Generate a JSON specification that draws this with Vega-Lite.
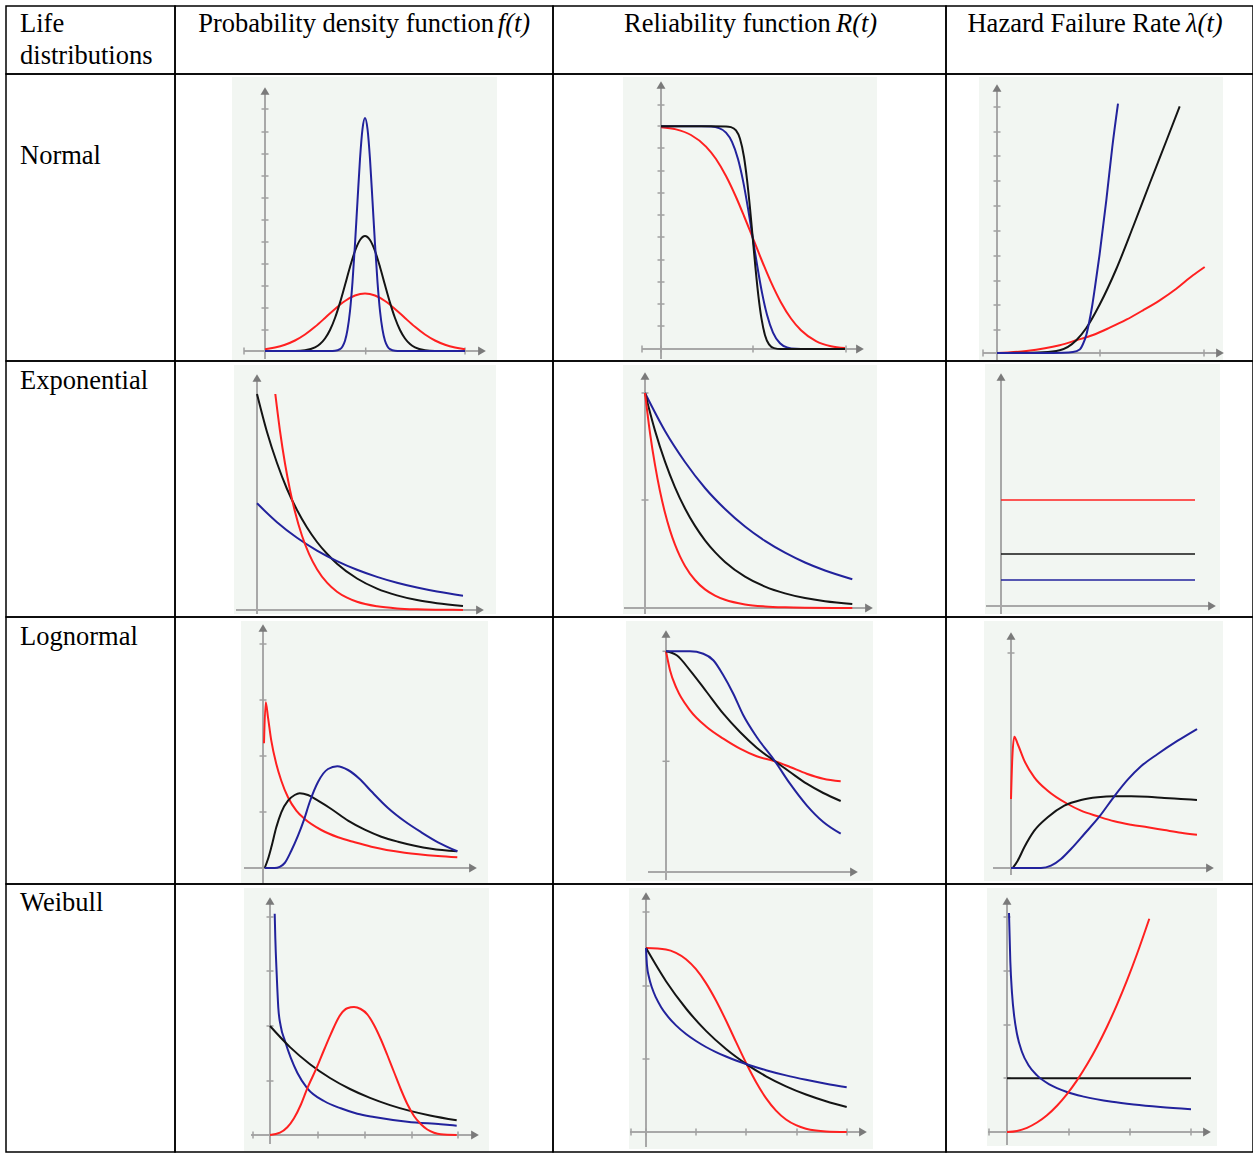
{
"$schema":"https://vega.github.io/schema/vega-lite/v6.json",
"padding":{"left":5,"top":5,"right":1,"bottom":2},
"background":"white",
"config":{"axis":{"disable":true},"legend":{"disable":true},"view":{"stroke":"#000","strokeWidth":1.5}},
"columns":4,"spacing":0,"align":"each","bounds":"flush",
"datasets":{
"frame":[{"part":"frame"}],
"ticks":[
{"c":"np","axis":"y","at":2.1},{"c":"np","axis":"y","at":4.3},{"c":"np","axis":"y","at":6.5},{"c":"np","axis":"y","at":8.7},{"c":"np","axis":"y","at":10.9},{"c":"np","axis":"y","at":13.1},{"c":"np","axis":"y","at":15.3},{"c":"np","axis":"y","at":17.5},{"c":"np","axis":"y","at":19.7},{"c":"np","axis":"y","at":21.9},{"c":"np","axis":"y","at":24.2},
{"c":"np","axis":"x","at":-2.1},{"c":"np","axis":"x","at":10.07},{"c":"np","axis":"x","at":20},
{"c":"nr","axis":"y","at":2.3},{"c":"nr","axis":"y","at":4.5},{"c":"nr","axis":"y","at":6.7},{"c":"nr","axis":"y","at":8.9},{"c":"nr","axis":"y","at":11.2},{"c":"nr","axis":"y","at":13.4},{"c":"nr","axis":"y","at":15.6},{"c":"nr","axis":"y","at":17.8},{"c":"nr","axis":"y","at":20.1},{"c":"nr","axis":"y","at":22.3},{"c":"nr","axis":"y","at":24.4},
{"c":"nr","axis":"x","at":-1.9},{"c":"nr","axis":"x","at":0},{"c":"nr","axis":"x","at":9.2},{"c":"nr","axis":"x","at":18.5},
{"c":"nh","axis":"y","at":2.3},{"c":"nh","axis":"y","at":4.8},{"c":"nh","axis":"y","at":7.2},{"c":"nh","axis":"y","at":9.7},{"c":"nh","axis":"y","at":12.2},{"c":"nh","axis":"y","at":14.7},{"c":"nh","axis":"y","at":17.2},{"c":"nh","axis":"y","at":19.7},{"c":"nh","axis":"y","at":22.1},{"c":"nh","axis":"y","at":24.6},
{"c":"nh","axis":"x","at":-1.4},{"c":"nh","axis":"x","at":10.3},{"c":"nh","axis":"x","at":20.7},
{"c":"er","axis":"y","at":10.8},{"c":"er","axis":"y","at":21.5},
{"c":"lp","axis":"y","at":5.6},{"c":"lp","axis":"y","at":11.2},{"c":"lp","axis":"y","at":16.8},{"c":"lp","axis":"y","at":22.4},
{"c":"lr","axis":"y","at":11.07},{"c":"lr","axis":"y","at":22.07},
{"c":"lh","axis":"y","at":21.5},
{"c":"wp","axis":"y","at":5.4},{"c":"wp","axis":"y","at":10.9},{"c":"wp","axis":"y","at":16.4},{"c":"wp","axis":"y","at":21.8},
{"c":"wp","axis":"x","at":-1.7},{"c":"wp","axis":"x","at":4.8},{"c":"wp","axis":"x","at":9.5},{"c":"wp","axis":"x","at":14.2},{"c":"wp","axis":"x","at":18.8},
{"c":"wr","axis":"y","at":7.3},{"c":"wr","axis":"y","at":14.6},{"c":"wr","axis":"y","at":22.0},
{"c":"wr","axis":"x","at":-1.5},{"c":"wr","axis":"x","at":0},{"c":"wr","axis":"x","at":5.0},{"c":"wr","axis":"x","at":10.0},{"c":"wr","axis":"x","at":15.1},{"c":"wr","axis":"x","at":20.1},
{"c":"wh","axis":"y","at":5.4},{"c":"wh","axis":"y","at":10.7},{"c":"wh","axis":"y","at":16.1},{"c":"wh","axis":"y","at":21.5},
{"c":"wh","axis":"x","at":-1.8},{"c":"wh","axis":"x","at":6.2},{"c":"wh","axis":"x","at":12.3},{"c":"wh","axis":"x","at":18.4}
],
"curves":[
{"c":"np","s":"red","t":0,"v":0.18},{"c":"np","s":"red","t":1,"v":0.35},{"c":"np","s":"red","t":2,"v":0.63},{"c":"np","s":"red","t":3,"v":1.05},{"c":"np","s":"red","t":4,"v":1.65},{"c":"np","s":"red","t":5,"v":2.42},{"c":"np","s":"red","t":6,"v":3.3},{"c":"np","s":"red","t":7,"v":4.21},{"c":"np","s":"red","t":8,"v":5.0},{"c":"np","s":"red","t":9,"v":5.55},{"c":"np","s":"red","t":10,"v":5.75},{"c":"np","s":"red","t":11,"v":5.55},{"c":"np","s":"red","t":12,"v":5.0},{"c":"np","s":"red","t":13,"v":4.21},{"c":"np","s":"red","t":14,"v":3.3},{"c":"np","s":"red","t":15,"v":2.42},{"c":"np","s":"red","t":16,"v":1.65},{"c":"np","s":"red","t":17,"v":1.05},{"c":"np","s":"red","t":18,"v":0.63},{"c":"np","s":"red","t":19,"v":0.35},{"c":"np","s":"red","t":20,"v":0.18},
{"c":"np","s":"black","t":0,"v":0},{"c":"np","s":"black","t":2,"v":0},{"c":"np","s":"black","t":3,"v":0.01},{"c":"np","s":"black","t":4,"v":0.08},{"c":"np","s":"black","t":5,"v":0.36},{"c":"np","s":"black","t":5.5,"v":0.7},{"c":"np","s":"black","t":6,"v":1.25},{"c":"np","s":"black","t":6.5,"v":2.1},{"c":"np","s":"black","t":7,"v":3.3},{"c":"np","s":"black","t":7.5,"v":4.84},{"c":"np","s":"black","t":8,"v":6.6},{"c":"np","s":"black","t":8.5,"v":8.4},{"c":"np","s":"black","t":9,"v":10.0},{"c":"np","s":"black","t":9.5,"v":11.1},{"c":"np","s":"black","t":10,"v":11.5},{"c":"np","s":"black","t":10.5,"v":11.1},{"c":"np","s":"black","t":11,"v":10.0},{"c":"np","s":"black","t":11.5,"v":8.4},{"c":"np","s":"black","t":12,"v":6.6},{"c":"np","s":"black","t":12.5,"v":4.84},{"c":"np","s":"black","t":13,"v":3.3},{"c":"np","s":"black","t":13.5,"v":2.1},{"c":"np","s":"black","t":14,"v":1.25},{"c":"np","s":"black","t":14.5,"v":0.7},{"c":"np","s":"black","t":15,"v":0.36},{"c":"np","s":"black","t":16,"v":0.08},{"c":"np","s":"black","t":17,"v":0.01},{"c":"np","s":"black","t":18,"v":0},{"c":"np","s":"black","t":20,"v":0},
{"c":"np","s":"blue","t":0,"v":0},{"c":"np","s":"blue","t":6.5,"v":0},{"c":"np","s":"blue","t":7,"v":0.02},{"c":"np","s":"blue","t":7.5,"v":0.18},{"c":"np","s":"blue","t":7.75,"v":0.45},{"c":"np","s":"blue","t":8,"v":1.02},{"c":"np","s":"blue","t":8.25,"v":2.13},{"c":"np","s":"blue","t":8.5,"v":4.0},{"c":"np","s":"blue","t":8.75,"v":6.9},{"c":"np","s":"blue","t":9,"v":10.7},{"c":"np","s":"blue","t":9.25,"v":15.0},{"c":"np","s":"blue","t":9.5,"v":19.2},{"c":"np","s":"blue","t":9.75,"v":22.2},{"c":"np","s":"blue","t":10,"v":23.3},{"c":"np","s":"blue","t":10.25,"v":22.2},{"c":"np","s":"blue","t":10.5,"v":19.2},{"c":"np","s":"blue","t":10.75,"v":15.0},{"c":"np","s":"blue","t":11,"v":10.7},{"c":"np","s":"blue","t":11.25,"v":6.9},{"c":"np","s":"blue","t":11.5,"v":4.0},{"c":"np","s":"blue","t":11.75,"v":2.13},{"c":"np","s":"blue","t":12,"v":1.02},{"c":"np","s":"blue","t":12.25,"v":0.45},{"c":"np","s":"blue","t":12.5,"v":0.18},{"c":"np","s":"blue","t":13,"v":0.02},{"c":"np","s":"blue","t":13.5,"v":0},{"c":"np","s":"blue","t":20,"v":0},

{"c":"nr","s":"red","t":0,"v":22.17},{"c":"nr","s":"red","t":1.5,"v":21.96},{"c":"nr","s":"red","t":3,"v":21.4},{"c":"nr","s":"red","t":4.5,"v":20.24},{"c":"nr","s":"red","t":5.5,"v":19.0},{"c":"nr","s":"red","t":6.5,"v":17.3},{"c":"nr","s":"red","t":7.5,"v":15.2},{"c":"nr","s":"red","t":8.3,"v":13.3},{"c":"nr","s":"red","t":9.17,"v":11.14},{"c":"nr","s":"red","t":10,"v":9.05},{"c":"nr","s":"red","t":11,"v":6.69},{"c":"nr","s":"red","t":12,"v":4.66},{"c":"nr","s":"red","t":13,"v":3.05},{"c":"nr","s":"red","t":14,"v":1.87},{"c":"nr","s":"red","t":15.5,"v":0.79},{"c":"nr","s":"red","t":17,"v":0.28},{"c":"nr","s":"red","t":18.4,"v":0.1},
{"c":"nr","s":"blue","t":0,"v":22.27},{"c":"nr","s":"blue","t":4,"v":22.27},{"c":"nr","s":"blue","t":5,"v":22.24},{"c":"nr","s":"blue","t":5.8,"v":22.09},{"c":"nr","s":"blue","t":6.5,"v":21.64},{"c":"nr","s":"blue","t":7.1,"v":20.72},{"c":"nr","s":"blue","t":7.7,"v":19.0},{"c":"nr","s":"blue","t":8.2,"v":16.84},{"c":"nr","s":"blue","t":8.7,"v":14.07},{"c":"nr","s":"blue","t":9.17,"v":11.14},{"c":"nr","s":"blue","t":9.6,"v":8.45},{"c":"nr","s":"blue","t":10.1,"v":5.64},{"c":"nr","s":"blue","t":10.6,"v":3.42},{"c":"nr","s":"blue","t":11.2,"v":1.64},{"c":"nr","s":"blue","t":11.9,"v":0.57},{"c":"nr","s":"blue","t":12.6,"v":0.16},{"c":"nr","s":"blue","t":13.5,"v":0.02},{"c":"nr","s":"blue","t":14.5,"v":0},{"c":"nr","s":"blue","t":18.4,"v":0},
{"c":"nr","s":"black","t":0,"v":22.27},{"c":"nr","s":"black","t":5,"v":22.27},{"c":"nr","s":"black","t":6.5,"v":22.26},{"c":"nr","s":"black","t":7,"v":22.19},{"c":"nr","s":"black","t":7.5,"v":21.86},{"c":"nr","s":"black","t":7.9,"v":21.03},{"c":"nr","s":"black","t":8.3,"v":19.2},{"c":"nr","s":"black","t":8.6,"v":16.95},{"c":"nr","s":"black","t":8.9,"v":14.1},{"c":"nr","s":"black","t":9.17,"v":11.14},{"c":"nr","s":"black","t":9.45,"v":8.08},{"c":"nr","s":"black","t":9.75,"v":5.21},{"c":"nr","s":"black","t":10.05,"v":3.03},{"c":"nr","s":"black","t":10.4,"v":1.38},{"c":"nr","s":"black","t":10.8,"v":0.46},{"c":"nr","s":"black","t":11.3,"v":0.09},{"c":"nr","s":"black","t":12,"v":0},{"c":"nr","s":"black","t":18.4,"v":0},

{"c":"nh","s":"red","t":0,"v":0},{"c":"nh","s":"red","t":2.93,"v":0.2},{"c":"nh","s":"red","t":6.27,"v":0.77},{"c":"nh","s":"red","t":7.93,"v":1.27},{"c":"nh","s":"red","t":9.6,"v":1.8},{"c":"nh","s":"red","t":11.27,"v":2.53},{"c":"nh","s":"red","t":12.93,"v":3.33},{"c":"nh","s":"red","t":14.6,"v":4.27},{"c":"nh","s":"red","t":16.27,"v":5.27},{"c":"nh","s":"red","t":17.93,"v":6.43},{"c":"nh","s":"red","t":19.6,"v":7.77},{"c":"nh","s":"red","t":20.77,"v":8.6},
{"c":"nh","s":"black","t":0,"v":0},{"c":"nh","s":"black","t":2.93,"v":0.03},{"c":"nh","s":"black","t":4.6,"v":0.07},{"c":"nh","s":"black","t":6.27,"v":0.27},{"c":"nh","s":"black","t":7.93,"v":1.27},{"c":"nh","s":"black","t":8.93,"v":2.5},{"c":"nh","s":"black","t":10.27,"v":4.85},{"c":"nh","s":"black","t":11.93,"v":8.4},{"c":"nh","s":"black","t":13.6,"v":12.6},{"c":"nh","s":"black","t":15.27,"v":16.95},{"c":"nh","s":"black","t":16.93,"v":21.2},{"c":"nh","s":"black","t":18.27,"v":24.67},
{"c":"nh","s":"blue","t":0,"v":0},{"c":"nh","s":"blue","t":4.6,"v":0},{"c":"nh","s":"blue","t":6.6,"v":0.03},{"c":"nh","s":"blue","t":7.6,"v":0.1},{"c":"nh","s":"blue","t":8.27,"v":0.35},{"c":"nh","s":"blue","t":8.6,"v":0.9},{"c":"nh","s":"blue","t":8.93,"v":1.8},{"c":"nh","s":"blue","t":9.2,"v":3.0},{"c":"nh","s":"blue","t":9.5,"v":4.6},{"c":"nh","s":"blue","t":9.8,"v":6.6},{"c":"nh","s":"blue","t":10.27,"v":9.93},{"c":"nh","s":"blue","t":10.93,"v":15.27},{"c":"nh","s":"blue","t":11.53,"v":20.6},{"c":"nh","s":"blue","t":12.1,"v":24.93},

{"c":"ep","s":"black","t":0,"v":21.6},{"c":"ep","s":"black","t":1,"v":17.8},{"c":"ep","s":"black","t":2,"v":14.7},{"c":"ep","s":"black","t":3,"v":12.1},{"c":"ep","s":"black","t":4,"v":10.0},{"c":"ep","s":"black","t":5,"v":8.25},{"c":"ep","s":"black","t":6,"v":6.8},{"c":"ep","s":"black","t":7,"v":5.62},{"c":"ep","s":"black","t":8,"v":4.63},{"c":"ep","s":"black","t":10,"v":3.15},{"c":"ep","s":"black","t":12,"v":2.14},{"c":"ep","s":"black","t":14,"v":1.46},{"c":"ep","s":"black","t":16,"v":0.99},{"c":"ep","s":"black","t":18,"v":0.68},{"c":"ep","s":"black","t":20.6,"v":0.41},
{"c":"ep","s":"blue","t":0,"v":10.67},{"c":"ep","s":"blue","t":2,"v":8.78},{"c":"ep","s":"blue","t":4,"v":7.22},{"c":"ep","s":"blue","t":6,"v":5.94},{"c":"ep","s":"blue","t":8,"v":4.89},{"c":"ep","s":"blue","t":10,"v":4.02},{"c":"ep","s":"blue","t":12,"v":3.31},{"c":"ep","s":"blue","t":14,"v":2.72},{"c":"ep","s":"blue","t":16,"v":2.24},{"c":"ep","s":"blue","t":18,"v":1.84},{"c":"ep","s":"blue","t":20.6,"v":1.43},
{"c":"ep","s":"red","t":1.83,"v":21.6},{"c":"ep","s":"red","t":2.3,"v":17.9},{"c":"ep","s":"red","t":2.8,"v":14.65},{"c":"ep","s":"red","t":3.3,"v":12.0},{"c":"ep","s":"red","t":3.8,"v":9.82},{"c":"ep","s":"red","t":4.5,"v":7.42},{"c":"ep","s":"red","t":5.2,"v":5.61},{"c":"ep","s":"red","t":6,"v":4.08},{"c":"ep","s":"red","t":7,"v":2.73},{"c":"ep","s":"red","t":8,"v":1.83},{"c":"ep","s":"red","t":9,"v":1.23},{"c":"ep","s":"red","t":10,"v":0.82},{"c":"ep","s":"red","t":12,"v":0.37},{"c":"ep","s":"red","t":14,"v":0.16},{"c":"ep","s":"red","t":16,"v":0.07},{"c":"ep","s":"red","t":18,"v":0.03},{"c":"ep","s":"red","t":20.6,"v":0.01},

{"c":"er","s":"blue","t":0,"v":21.5},{"c":"er","s":"blue","t":2,"v":17.7},{"c":"er","s":"blue","t":4,"v":14.6},{"c":"er","s":"blue","t":6,"v":12.0},{"c":"er","s":"blue","t":8,"v":9.9},{"c":"er","s":"blue","t":10,"v":8.15},{"c":"er","s":"blue","t":12,"v":6.71},{"c":"er","s":"blue","t":14,"v":5.53},{"c":"er","s":"blue","t":16,"v":4.55},{"c":"er","s":"blue","t":18,"v":3.75},{"c":"er","s":"blue","t":20.73,"v":2.88},
{"c":"er","s":"black","t":0,"v":21.5},{"c":"er","s":"black","t":1,"v":17.74},{"c":"er","s":"black","t":2,"v":14.64},{"c":"er","s":"black","t":3,"v":12.07},{"c":"er","s":"black","t":4,"v":9.95},{"c":"er","s":"black","t":5,"v":8.21},{"c":"er","s":"black","t":6,"v":6.77},{"c":"er","s":"black","t":7,"v":5.59},{"c":"er","s":"black","t":8,"v":4.61},{"c":"er","s":"black","t":10,"v":3.14},{"c":"er","s":"black","t":12,"v":2.14},{"c":"er","s":"black","t":14,"v":1.46},{"c":"er","s":"black","t":16,"v":0.99},{"c":"er","s":"black","t":18,"v":0.67},{"c":"er","s":"black","t":20.73,"v":0.4},
{"c":"er","s":"red","t":0,"v":21.5},{"c":"er","s":"red","t":0.5,"v":17.5},{"c":"er","s":"red","t":1,"v":14.31},{"c":"er","s":"red","t":1.5,"v":11.67},{"c":"er","s":"red","t":2,"v":9.52},{"c":"er","s":"red","t":2.5,"v":7.76},{"c":"er","s":"red","t":3,"v":6.33},{"c":"er","s":"red","t":3.5,"v":5.16},{"c":"er","s":"red","t":4,"v":4.21},{"c":"er","s":"red","t":5,"v":2.8},{"c":"er","s":"red","t":6,"v":1.86},{"c":"er","s":"red","t":7,"v":1.24},{"c":"er","s":"red","t":8,"v":0.82},{"c":"er","s":"red","t":10,"v":0.36},{"c":"er","s":"red","t":12,"v":0.16},{"c":"er","s":"red","t":14,"v":0.07},{"c":"er","s":"red","t":16,"v":0.03},{"c":"er","s":"red","t":20.73,"v":0},

{"c":"eh","s":"red","t":0,"v":10.6},{"c":"eh","s":"red","t":19.4,"v":10.6},
{"c":"eh","s":"black","t":0,"v":5.2},{"c":"eh","s":"black","t":19.4,"v":5.2},
{"c":"eh","s":"blue","t":0,"v":2.6},{"c":"eh","s":"blue","t":19.4,"v":2.6},

{"c":"lp","s":"red","t":0.1,"v":12.47},{"c":"lp","s":"red","t":0.27,"v":16.57},{"c":"lp","s":"red","t":0.5,"v":15.07},{"c":"lp","s":"red","t":0.83,"v":12.73},{"c":"lp","s":"red","t":1.33,"v":10.4},{"c":"lp","s":"red","t":1.83,"v":8.73},{"c":"lp","s":"red","t":2.5,"v":7.07},{"c":"lp","s":"red","t":3.33,"v":5.73},{"c":"lp","s":"red","t":4.17,"v":4.9},{"c":"lp","s":"red","t":5.83,"v":3.8},{"c":"lp","s":"red","t":7.5,"v":3.07},{"c":"lp","s":"red","t":9.17,"v":2.57},{"c":"lp","s":"red","t":10.83,"v":2.13},{"c":"lp","s":"red","t":14.17,"v":1.53},{"c":"lp","s":"red","t":17.5,"v":1.2},{"c":"lp","s":"red","t":19.43,"v":1.07},
{"c":"lp","s":"black","t":0.17,"v":0},{"c":"lp","s":"black","t":0.5,"v":0.9},{"c":"lp","s":"black","t":0.83,"v":2.07},{"c":"lp","s":"black","t":1.33,"v":4.07},{"c":"lp","s":"black","t":1.83,"v":5.57},{"c":"lp","s":"black","t":2.5,"v":6.73},{"c":"lp","s":"black","t":3.17,"v":7.3},{"c":"lp","s":"black","t":3.67,"v":7.47},{"c":"lp","s":"black","t":4.5,"v":7.3},{"c":"lp","s":"black","t":5.5,"v":6.73},{"c":"lp","s":"black","t":6.83,"v":5.9},{"c":"lp","s":"black","t":8.5,"v":4.73},{"c":"lp","s":"black","t":10.17,"v":3.83},{"c":"lp","s":"black","t":11.83,"v":3.13},{"c":"lp","s":"black","t":13.5,"v":2.63},{"c":"lp","s":"black","t":15.17,"v":2.23},{"c":"lp","s":"black","t":16.83,"v":1.93},{"c":"lp","s":"black","t":19.43,"v":1.67},
{"c":"lp","s":"blue","t":0.17,"v":0},{"c":"lp","s":"blue","t":1.17,"v":0},{"c":"lp","s":"blue","t":1.67,"v":0.12},{"c":"lp","s":"blue","t":2.17,"v":0.5},{"c":"lp","s":"blue","t":2.83,"v":1.73},{"c":"lp","s":"blue","t":3.5,"v":3.23},{"c":"lp","s":"blue","t":4.07,"v":4.73},{"c":"lp","s":"blue","t":4.67,"v":6.6},{"c":"lp","s":"blue","t":5.5,"v":8.6},{"c":"lp","s":"blue","t":6.5,"v":9.9},{"c":"lp","s":"blue","t":7.43,"v":10.17},{"c":"lp","s":"blue","t":8.5,"v":9.8},{"c":"lp","s":"blue","t":9.67,"v":8.9},{"c":"lp","s":"blue","t":10.83,"v":7.67},{"c":"lp","s":"blue","t":12.5,"v":6.0},{"c":"lp","s":"blue","t":14.17,"v":4.67},{"c":"lp","s":"blue","t":15.83,"v":3.57},{"c":"lp","s":"blue","t":17.5,"v":2.57},{"c":"lp","s":"blue","t":19.43,"v":1.67},

{"c":"lr","s":"red","t":0,"v":22.07},{"c":"lr","s":"red","t":0.4,"v":20.17},{"c":"lr","s":"red","t":1.07,"v":18.33},{"c":"lr","s":"red","t":2.4,"v":16.17},{"c":"lr","s":"red","t":4.07,"v":14.5},{"c":"lr","s":"red","t":5.73,"v":13.33},{"c":"lr","s":"red","t":7.4,"v":12.33},{"c":"lr","s":"red","t":9.07,"v":11.57},{"c":"lr","s":"red","t":10.9,"v":11.07},{"c":"lr","s":"red","t":12.4,"v":10.5},{"c":"lr","s":"red","t":14.07,"v":9.83},{"c":"lr","s":"red","t":15.73,"v":9.33},{"c":"lr","s":"red","t":17.47,"v":9.07},
{"c":"lr","s":"black","t":0,"v":22.07},{"c":"lr","s":"black","t":1.07,"v":21.67},{"c":"lr","s":"black","t":2.4,"v":20.17},{"c":"lr","s":"black","t":4.07,"v":18.0},{"c":"lr","s":"black","t":5.73,"v":15.83},{"c":"lr","s":"black","t":7.4,"v":14.0},{"c":"lr","s":"black","t":9.07,"v":12.43},{"c":"lr","s":"black","t":10.9,"v":11.07},{"c":"lr","s":"black","t":12.4,"v":10.0},{"c":"lr","s":"black","t":14.07,"v":8.83},{"c":"lr","s":"black","t":15.73,"v":7.9},{"c":"lr","s":"black","t":17.47,"v":7.1},
{"c":"lr","s":"blue","t":0,"v":22.07},{"c":"lr","s":"blue","t":2.4,"v":22.07},{"c":"lr","s":"blue","t":3.73,"v":21.83},{"c":"lr","s":"blue","t":4.73,"v":21.17},{"c":"lr","s":"blue","t":5.73,"v":19.67},{"c":"lr","s":"blue","t":6.73,"v":17.83},{"c":"lr","s":"blue","t":7.73,"v":15.67},{"c":"lr","s":"blue","t":9.07,"v":13.5},{"c":"lr","s":"blue","t":10.9,"v":11.07},{"c":"lr","s":"blue","t":12.4,"v":8.83},{"c":"lr","s":"blue","t":14.07,"v":6.67},{"c":"lr","s":"blue","t":15.73,"v":5.0},{"c":"lr","s":"blue","t":17.47,"v":3.83},

{"c":"lh","s":"red","t":0,"v":6.9},{"c":"lh","s":"red","t":0.13,"v":11.0},{"c":"lh","s":"red","t":0.33,"v":13.13},{"c":"lh","s":"red","t":0.67,"v":12.4},{"c":"lh","s":"red","t":1.33,"v":10.73},{"c":"lh","s":"red","t":2.33,"v":9.07},{"c":"lh","s":"red","t":3.67,"v":7.73},{"c":"lh","s":"red","t":5.67,"v":6.4},{"c":"lh","s":"red","t":7.0,"v":5.73},{"c":"lh","s":"red","t":8.67,"v":5.17},{"c":"lh","s":"red","t":10.33,"v":4.67},{"c":"lh","s":"red","t":12.0,"v":4.33},{"c":"lh","s":"red","t":13.67,"v":4.07},{"c":"lh","s":"red","t":15.33,"v":3.8},{"c":"lh","s":"red","t":17.0,"v":3.53},{"c":"lh","s":"red","t":18.6,"v":3.33},
{"c":"lh","s":"black","t":0.17,"v":0},{"c":"lh","s":"black","t":0.67,"v":0.73},{"c":"lh","s":"black","t":1.33,"v":2.07},{"c":"lh","s":"black","t":2.33,"v":3.73},{"c":"lh","s":"black","t":3.67,"v":5.07},{"c":"lh","s":"black","t":5.33,"v":6.23},{"c":"lh","s":"black","t":7.0,"v":6.8},{"c":"lh","s":"black","t":8.67,"v":7.07},{"c":"lh","s":"black","t":10.33,"v":7.17},{"c":"lh","s":"black","t":12.0,"v":7.17},{"c":"lh","s":"black","t":13.67,"v":7.13},{"c":"lh","s":"black","t":15.33,"v":7.0},{"c":"lh","s":"black","t":17.0,"v":6.9},{"c":"lh","s":"black","t":18.6,"v":6.8},
{"c":"lh","s":"blue","t":0,"v":0},{"c":"lh","s":"blue","t":3,"v":0},{"c":"lh","s":"blue","t":4,"v":0.23},{"c":"lh","s":"blue","t":5,"v":0.9},{"c":"lh","s":"blue","t":6,"v":1.9},{"c":"lh","s":"blue","t":7.33,"v":3.4},{"c":"lh","s":"blue","t":8.83,"v":5.13},{"c":"lh","s":"blue","t":10.33,"v":7.17},{"c":"lh","s":"blue","t":11.67,"v":8.83},{"c":"lh","s":"blue","t":13,"v":10.17},{"c":"lh","s":"blue","t":14.67,"v":11.4},{"c":"lh","s":"blue","t":16.67,"v":12.73},{"c":"lh","s":"blue","t":18.6,"v":13.9},

{"c":"wp","s":"blue","t":0.47,"v":22.13},{"c":"wp","s":"blue","t":0.53,"v":19.73},{"c":"wp","s":"blue","t":0.67,"v":16.07},{"c":"wp","s":"blue","t":0.83,"v":12.73},{"c":"wp","s":"blue","t":1.07,"v":10.9},{"c":"wp","s":"blue","t":1.5,"v":9.4},{"c":"wp","s":"blue","t":2.07,"v":7.73},{"c":"wp","s":"blue","t":2.73,"v":6.23},{"c":"wp","s":"blue","t":3.73,"v":4.67},{"c":"wp","s":"blue","t":5.4,"v":3.4},{"c":"wp","s":"blue","t":7.07,"v":2.67},{"c":"wp","s":"blue","t":8.73,"v":2.13},{"c":"wp","s":"blue","t":10.4,"v":1.8},{"c":"wp","s":"blue","t":13.73,"v":1.33},{"c":"wp","s":"blue","t":17.07,"v":1.07},{"c":"wp","s":"blue","t":18.67,"v":0.93},
{"c":"wp","s":"black","t":0,"v":10.9},{"c":"wp","s":"black","t":2,"v":8.79},{"c":"wp","s":"black","t":4,"v":7.08},{"c":"wp","s":"black","t":6,"v":5.7},{"c":"wp","s":"black","t":8,"v":4.6},{"c":"wp","s":"black","t":10,"v":3.71},{"c":"wp","s":"black","t":12,"v":2.99},{"c":"wp","s":"black","t":14,"v":2.41},{"c":"wp","s":"black","t":16,"v":1.95},{"c":"wp","s":"black","t":18.67,"v":1.47},
{"c":"wp","s":"red","t":0,"v":0},{"c":"wp","s":"red","t":1.0,"v":0.23},{"c":"wp","s":"red","t":1.73,"v":0.77},{"c":"wp","s":"red","t":2.4,"v":1.67},{"c":"wp","s":"red","t":3.07,"v":3.0},{"c":"wp","s":"red","t":3.73,"v":4.67},{"c":"wp","s":"red","t":4.67,"v":6.73},{"c":"wp","s":"red","t":5.4,"v":8.5},{"c":"wp","s":"red","t":6.07,"v":10.07},{"c":"wp","s":"red","t":7.07,"v":12.07},{"c":"wp","s":"red","t":7.73,"v":12.67},{"c":"wp","s":"red","t":8.4,"v":12.8},{"c":"wp","s":"red","t":9.07,"v":12.6},{"c":"wp","s":"red","t":9.73,"v":12.07},{"c":"wp","s":"red","t":10.4,"v":11.0},{"c":"wp","s":"red","t":11.07,"v":9.6},{"c":"wp","s":"red","t":11.73,"v":8.0},{"c":"wp","s":"red","t":12.4,"v":6.3},{"c":"wp","s":"red","t":13.07,"v":4.6},{"c":"wp","s":"red","t":13.73,"v":3.1},{"c":"wp","s":"red","t":14.4,"v":1.9},{"c":"wp","s":"red","t":15.07,"v":1.1},{"c":"wp","s":"red","t":15.73,"v":0.55},{"c":"wp","s":"red","t":16.4,"v":0.23},{"c":"wp","s":"red","t":17.07,"v":0.07},{"c":"wp","s":"red","t":18.67,"v":0},

{"c":"wr","s":"red","t":0,"v":18.4},{"c":"wr","s":"red","t":2,"v":18.26},{"c":"wr","s":"red","t":3,"v":17.92},{"c":"wr","s":"red","t":4,"v":17.28},{"c":"wr","s":"red","t":5,"v":16.28},{"c":"wr","s":"red","t":6,"v":14.89},{"c":"wr","s":"red","t":7,"v":13.15},{"c":"wr","s":"red","t":8,"v":11.15},{"c":"wr","s":"red","t":9,"v":9.01},{"c":"wr","s":"red","t":10.07,"v":6.77},{"c":"wr","s":"red","t":11,"v":5.0},{"c":"wr","s":"red","t":12,"v":3.39},{"c":"wr","s":"red","t":13,"v":2.14},{"c":"wr","s":"red","t":14,"v":1.25},{"c":"wr","s":"red","t":15,"v":0.68},{"c":"wr","s":"red","t":16,"v":0.33},{"c":"wr","s":"red","t":17,"v":0.15},{"c":"wr","s":"red","t":18,"v":0.06},{"c":"wr","s":"red","t":20.07,"v":0},
{"c":"wr","s":"black","t":0,"v":18.4},{"c":"wr","s":"black","t":2,"v":15.08},{"c":"wr","s":"black","t":4,"v":12.35},{"c":"wr","s":"black","t":6,"v":10.11},{"c":"wr","s":"black","t":8,"v":8.3},{"c":"wr","s":"black","t":10.07,"v":6.77},{"c":"wr","s":"black","t":12,"v":5.57},{"c":"wr","s":"black","t":14,"v":4.57},{"c":"wr","s":"black","t":16,"v":3.75},{"c":"wr","s":"black","t":18,"v":3.08},{"c":"wr","s":"black","t":20.07,"v":2.5},
{"c":"wr","s":"blue","t":0,"v":18.4},{"c":"wr","s":"blue","t":0.1,"v":16.65},{"c":"wr","s":"blue","t":0.3,"v":15.48},{"c":"wr","s":"blue","t":0.6,"v":14.42},{"c":"wr","s":"blue","t":1,"v":13.43},{"c":"wr","s":"blue","t":1.5,"v":12.51},{"c":"wr","s":"blue","t":2,"v":11.78},{"c":"wr","s":"blue","t":3,"v":10.66},{"c":"wr","s":"blue","t":4,"v":9.8},{"c":"wr","s":"blue","t":5,"v":9.1},{"c":"wr","s":"blue","t":6,"v":8.5},{"c":"wr","s":"blue","t":7,"v":7.99},{"c":"wr","s":"blue","t":8,"v":7.55},{"c":"wr","s":"blue","t":9,"v":7.15},{"c":"wr","s":"blue","t":10.07,"v":6.77},{"c":"wr","s":"blue","t":12,"v":6.18},{"c":"wr","s":"blue","t":14,"v":5.66},{"c":"wr","s":"blue","t":16,"v":5.22},{"c":"wr","s":"blue","t":18,"v":4.83},{"c":"wr","s":"blue","t":20.07,"v":4.48},

{"c":"wh","s":"black","t":0,"v":5.37},{"c":"wh","s":"black","t":18.4,"v":5.37},
{"c":"wh","s":"blue","t":0.2,"v":21.9},{"c":"wh","s":"blue","t":0.33,"v":17.1},{"c":"wh","s":"blue","t":0.5,"v":13.9},{"c":"wh","s":"blue","t":0.73,"v":11.5},{"c":"wh","s":"blue","t":1,"v":9.8},{"c":"wh","s":"blue","t":1.5,"v":8.0},{"c":"wh","s":"blue","t":2.17,"v":6.65},{"c":"wh","s":"blue","t":3,"v":5.66},{"c":"wh","s":"blue","t":4.33,"v":4.71},{"c":"wh","s":"blue","t":6,"v":4.0},{"c":"wh","s":"blue","t":7.67,"v":3.54},{"c":"wh","s":"blue","t":10.5,"v":3.02},{"c":"wh","s":"blue","t":12.67,"v":2.75},{"c":"wh","s":"blue","t":15.33,"v":2.5},{"c":"wh","s":"blue","t":18.4,"v":2.28},
{"c":"wh","s":"red","t":0,"v":0},{"c":"wh","s":"red","t":1,"v":0.105},{"c":"wh","s":"red","t":2,"v":0.42},{"c":"wh","s":"red","t":3,"v":0.95},{"c":"wh","s":"red","t":4,"v":1.68},{"c":"wh","s":"red","t":5,"v":2.63},{"c":"wh","s":"red","t":6,"v":3.79},{"c":"wh","s":"red","t":7,"v":5.16},{"c":"wh","s":"red","t":8,"v":6.74},{"c":"wh","s":"red","t":9,"v":8.53},{"c":"wh","s":"red","t":10,"v":10.53},{"c":"wh","s":"red","t":11,"v":12.74},{"c":"wh","s":"red","t":12,"v":15.16},{"c":"wh","s":"red","t":13,"v":17.8},{"c":"wh","s":"red","t":14.23,"v":21.33}
]
},
"concat":[
{"width":169,"height":68,"layer":[
 {"data":{"values":[{"label":"Life"}]},"mark":{"type":"text","font":"Liberation Serif","fontSize":26.5,"align":"left","baseline":"alphabetic","color":"#000"},"encoding":{"text":{"field":"label"},"x":{"datum":8.3,"type":"quantitative","scale":{"domain":[0,100],"nice":false}},"y":{"datum":37.5,"type":"quantitative","scale":{"domain":[0,100],"nice":false,"reverse":true}}}},
 {"data":{"values":[{"label":"distributions"}]},"mark":{"type":"text","font":"Liberation Serif","fontSize":26.5,"align":"left","baseline":"alphabetic","color":"#000"},"encoding":{"text":{"field":"label"},"x":{"datum":8.3,"type":"quantitative"},"y":{"datum":85,"type":"quantitative"}}}
]},
{"width":378,"height":68,"layer":[
 {"data":{"values":[{"label":"Probability density function"}]},"mark":{"type":"text","font":"Liberation Serif","fontSize":26.5,"align":"right","baseline":"alphabetic","color":"#000"},"encoding":{"text":{"field":"label"},"x":{"datum":84.4,"type":"quantitative","scale":{"domain":[0,100],"nice":false}},"y":{"datum":37.5,"type":"quantitative","scale":{"domain":[0,100],"nice":false,"reverse":true}}}},
 {"data":{"values":[{"label":"f(t)"}]},"mark":{"type":"text","font":"Liberation Serif","fontSize":26.5,"fontStyle":"italic","align":"left","baseline":"alphabetic","color":"#000"},"encoding":{"text":{"field":"label"},"x":{"datum":85.4,"type":"quantitative"},"y":{"datum":37.5,"type":"quantitative"}}}
]},
{"width":393,"height":68,"layer":[
 {"data":{"values":[{"label":"Reliability function"}]},"mark":{"type":"text","font":"Liberation Serif","fontSize":26.5,"align":"right","baseline":"alphabetic","color":"#000"},"encoding":{"text":{"field":"label"},"x":{"datum":70.7,"type":"quantitative","scale":{"domain":[0,100],"nice":false}},"y":{"datum":37.5,"type":"quantitative","scale":{"domain":[0,100],"nice":false,"reverse":true}}}},
 {"data":{"values":[{"label":"R(t)"}]},"mark":{"type":"text","font":"Liberation Serif","fontSize":26.5,"fontStyle":"italic","align":"left","baseline":"alphabetic","color":"#000"},"encoding":{"text":{"field":"label"},"x":{"datum":72.0,"type":"quantitative"},"y":{"datum":37.5,"type":"quantitative"}}}
]},
{"width":307,"height":68,"layer":[
 {"data":{"values":[{"label":"Hazard Failure Rate"}]},"mark":{"type":"text","font":"Liberation Serif","fontSize":26.5,"align":"right","baseline":"alphabetic","color":"#000"},"encoding":{"text":{"field":"label"},"x":{"datum":76.5,"type":"quantitative","scale":{"domain":[0,100],"nice":false}},"y":{"datum":37.5,"type":"quantitative","scale":{"domain":[0,100],"nice":false,"reverse":true}}}},
 {"data":{"values":[{"label":"λ(t)"}]},"mark":{"type":"text","font":"Liberation Serif","fontSize":26.5,"fontStyle":"italic","align":"left","baseline":"alphabetic","color":"#000"},"encoding":{"text":{"field":"label"},"x":{"datum":78.2,"type":"quantitative"},"y":{"datum":37.5,"type":"quantitative"}}}
]},

{"width":169,"height":287,"data":{"values":[{"label":"Normal"}]},"mark":{"type":"text","font":"Liberation Serif","fontSize":26.5,"align":"left","baseline":"alphabetic","color":"#000"},"encoding":{"text":{"field":"label"},"x":{"datum":8.3,"type":"quantitative","scale":{"domain":[0,100],"nice":false}},"y":{"datum":31.4,"type":"quantitative","scale":{"domain":[0,100],"nice":false,"reverse":true}}}},
{"width":378,"height":287,"layer":[
 {"data":{"name":"frame"},"mark":{"type":"rect","color":"#f2f6f2"},"encoding":{"x":{"datum":-3.3,"type":"quantitative","scale":{"domain":[-9,28.8],"nice":false,"zero":false}},"x2":{"datum":23.2},"y":{"datum":-0.9,"type":"quantitative","scale":{"domain":[-1,27.7],"nice":false,"zero":false}},"y2":{"datum":27.4}}},
 {"data":{"name":"frame"},"mark":{"type":"rule","color":"#a8a8a8","strokeWidth":2},"encoding":{"x":{"datum":0,"type":"quantitative"},"y":{"datum":-0.8,"type":"quantitative"},"y2":{"datum":26}}},
 {"data":{"name":"frame"},"mark":{"type":"rule","color":"#a8a8a8","strokeWidth":2},"encoding":{"x":{"datum":-2.1,"type":"quantitative"},"x2":{"datum":21.7},"y":{"datum":0,"type":"quantitative"}}},
 {"data":{"name":"ticks"},"transform":[{"filter":"datum.c==='np' && datum.axis==='y'"}],"mark":{"type":"rule","color":"#a0a0a0","strokeWidth":1.5},"encoding":{"y":{"field":"at","type":"quantitative"},"x":{"datum":-0.35,"type":"quantitative"},"x2":{"datum":0.35}}},
 {"data":{"name":"ticks"},"transform":[{"filter":"datum.c==='np' && datum.axis==='x'"}],"mark":{"type":"rule","color":"#a0a0a0","strokeWidth":1.5},"encoding":{"x":{"field":"at","type":"quantitative"},"y":{"datum":-0.35,"type":"quantitative"},"y2":{"datum":0.35}}},
 {"data":{"name":"frame"},"mark":{"type":"point","shape":"triangle-up","filled":true,"color":"#7a7a7a","opacity":1,"size":80},"encoding":{"x":{"datum":0,"type":"quantitative"},"y":{"datum":26,"type":"quantitative"}}},
 {"data":{"name":"frame"},"mark":{"type":"point","shape":"triangle-right","filled":true,"color":"#7a7a7a","opacity":1,"size":80},"encoding":{"x":{"datum":21.7,"type":"quantitative"},"y":{"datum":0,"type":"quantitative"}}},
 {"data":{"name":"curves"},"transform":[{"filter":"datum.c==='np'"}],"mark":{"type":"line","interpolate":"monotone","strokeWidth":2},"encoding":{"x":{"field":"t","type":"quantitative"},"y":{"field":"v","type":"quantitative"},"color":{"field":"s","type":"nominal","scale":{"domain":["red","black","blue"],"range":["#ff2020","#141414","#22229c"]},"legend":null}}}
]},
{"width":393,"height":287,"layer":[
 {"data":{"name":"frame"},"mark":{"type":"rect","color":"#f2f6f2"},"encoding":{"x":{"datum":-3.8,"type":"quantitative","scale":{"domain":[-10.8,28.5],"nice":false,"zero":false}},"x2":{"datum":21.6},"y":{"datum":-1.1,"type":"quantitative","scale":{"domain":[-1.2,27.5],"nice":false,"zero":false}},"y2":{"datum":27.2}}},
 {"data":{"name":"frame"},"mark":{"type":"rule","color":"#a8a8a8","strokeWidth":2},"encoding":{"x":{"datum":0,"type":"quantitative"},"y":{"datum":-1.0,"type":"quantitative"},"y2":{"datum":26.4}}},
 {"data":{"name":"frame"},"mark":{"type":"rule","color":"#a8a8a8","strokeWidth":2},"encoding":{"x":{"datum":-1.9,"type":"quantitative"},"x2":{"datum":19.9},"y":{"datum":0,"type":"quantitative"}}},
 {"data":{"name":"ticks"},"transform":[{"filter":"datum.c==='nr' && datum.axis==='y'"}],"mark":{"type":"rule","color":"#a0a0a0","strokeWidth":1.5},"encoding":{"y":{"field":"at","type":"quantitative"},"x":{"datum":-0.35,"type":"quantitative"},"x2":{"datum":0.35}}},
 {"data":{"name":"ticks"},"transform":[{"filter":"datum.c==='nr' && datum.axis==='x'"}],"mark":{"type":"rule","color":"#a0a0a0","strokeWidth":1.5},"encoding":{"x":{"field":"at","type":"quantitative"},"y":{"datum":-0.35,"type":"quantitative"},"y2":{"datum":0.35}}},
 {"data":{"name":"frame"},"mark":{"type":"point","shape":"triangle-up","filled":true,"color":"#7a7a7a","opacity":1,"size":80},"encoding":{"x":{"datum":0,"type":"quantitative"},"y":{"datum":26.4,"type":"quantitative"}}},
 {"data":{"name":"frame"},"mark":{"type":"point","shape":"triangle-right","filled":true,"color":"#7a7a7a","opacity":1,"size":80},"encoding":{"x":{"datum":19.9,"type":"quantitative"},"y":{"datum":0,"type":"quantitative"}}},
 {"data":{"name":"curves"},"transform":[{"filter":"datum.c==='nr'"}],"mark":{"type":"line","interpolate":"monotone","strokeWidth":2},"encoding":{"x":{"field":"t","type":"quantitative"},"y":{"field":"v","type":"quantitative"},"color":{"field":"s","type":"nominal","scale":{"domain":["red","black","blue"],"range":["#ff2020","#141414","#22229c"]},"legend":null}}}
]},
{"width":307,"height":287,"layer":[
 {"data":{"name":"frame"},"mark":{"type":"rect","color":"#f2f6f2"},"encoding":{"x":{"datum":-1.8,"type":"quantitative","scale":{"domain":[-5.1,25.6],"nice":false,"zero":false}},"x2":{"datum":22.6},"y":{"datum":-0.7,"type":"quantitative","scale":{"domain":[-0.8,27.9],"nice":false,"zero":false}},"y2":{"datum":27.6}}},
 {"data":{"name":"frame"},"mark":{"type":"rule","color":"#a8a8a8","strokeWidth":2},"encoding":{"x":{"datum":0,"type":"quantitative"},"y":{"datum":-0.7,"type":"quantitative"},"y2":{"datum":26.5}}},
 {"data":{"name":"frame"},"mark":{"type":"rule","color":"#a8a8a8","strokeWidth":2},"encoding":{"x":{"datum":-1.4,"type":"quantitative"},"x2":{"datum":22.3},"y":{"datum":0,"type":"quantitative"}}},
 {"data":{"name":"ticks"},"transform":[{"filter":"datum.c==='nh' && datum.axis==='y'"}],"mark":{"type":"rule","color":"#a0a0a0","strokeWidth":1.5},"encoding":{"y":{"field":"at","type":"quantitative"},"x":{"datum":-0.35,"type":"quantitative"},"x2":{"datum":0.35}}},
 {"data":{"name":"ticks"},"transform":[{"filter":"datum.c==='nh' && datum.axis==='x'"}],"mark":{"type":"rule","color":"#a0a0a0","strokeWidth":1.5},"encoding":{"x":{"field":"at","type":"quantitative"},"y":{"datum":-0.35,"type":"quantitative"},"y2":{"datum":0.35}}},
 {"data":{"name":"frame"},"mark":{"type":"point","shape":"triangle-up","filled":true,"color":"#7a7a7a","opacity":1,"size":80},"encoding":{"x":{"datum":0,"type":"quantitative"},"y":{"datum":26.5,"type":"quantitative"}}},
 {"data":{"name":"frame"},"mark":{"type":"point","shape":"triangle-right","filled":true,"color":"#7a7a7a","opacity":1,"size":80},"encoding":{"x":{"datum":22.3,"type":"quantitative"},"y":{"datum":0,"type":"quantitative"}}},
 {"data":{"name":"curves"},"transform":[{"filter":"datum.c==='nh'"}],"mark":{"type":"line","interpolate":"monotone","strokeWidth":2},"encoding":{"x":{"field":"t","type":"quantitative"},"y":{"field":"v","type":"quantitative"},"color":{"field":"s","type":"nominal","scale":{"domain":["red","black","blue"],"range":["#ff2020","#141414","#22229c"]},"legend":null}}}
]},

{"width":169,"height":256,"data":{"values":[{"label":"Exponential"}]},"mark":{"type":"text","font":"Liberation Serif","fontSize":26.5,"align":"left","baseline":"alphabetic","color":"#000"},"encoding":{"text":{"field":"label"},"x":{"datum":8.3,"type":"quantitative","scale":{"domain":[0,100],"nice":false}},"y":{"datum":10.9,"type":"quantitative","scale":{"domain":[0,100],"nice":false,"reverse":true}}}},
{"width":378,"height":256,"layer":[
 {"data":{"name":"frame"},"mark":{"type":"rect","color":"#f2f6f2"},"encoding":{"x":{"datum":-2.3,"type":"quantitative","scale":{"domain":[-8.2,29.6],"nice":false,"zero":false}},"x2":{"datum":23.9},"y":{"datum":-0.4,"type":"quantitative","scale":{"domain":[-0.7,24.9],"nice":false,"zero":false}},"y2":{"datum":24.5}}},
 {"data":{"name":"frame"},"mark":{"type":"rule","color":"#a8a8a8","strokeWidth":2},"encoding":{"x":{"datum":0,"type":"quantitative"},"y":{"datum":-0.4,"type":"quantitative"},"y2":{"datum":23.2}}},
 {"data":{"name":"frame"},"mark":{"type":"rule","color":"#a8a8a8","strokeWidth":2},"encoding":{"x":{"datum":-2.1,"type":"quantitative"},"x2":{"datum":22.3},"y":{"datum":0,"type":"quantitative"}}},
 {"data":{"name":"frame"},"mark":{"type":"point","shape":"triangle-up","filled":true,"color":"#7a7a7a","opacity":1,"size":80},"encoding":{"x":{"datum":0,"type":"quantitative"},"y":{"datum":23.2,"type":"quantitative"}}},
 {"data":{"name":"frame"},"mark":{"type":"point","shape":"triangle-right","filled":true,"color":"#7a7a7a","opacity":1,"size":80},"encoding":{"x":{"datum":22.3,"type":"quantitative"},"y":{"datum":0,"type":"quantitative"}}},
 {"data":{"name":"curves"},"transform":[{"filter":"datum.c==='ep'"}],"mark":{"type":"line","interpolate":"monotone","strokeWidth":2},"encoding":{"x":{"field":"t","type":"quantitative"},"y":{"field":"v","type":"quantitative"},"color":{"field":"s","type":"nominal","scale":{"domain":["red","black","blue"],"range":["#ff2020","#141414","#22229c"]},"legend":null}}}
]},
{"width":393,"height":256,"layer":[
 {"data":{"name":"frame"},"mark":{"type":"rect","color":"#f2f6f2"},"encoding":{"x":{"datum":-2.2,"type":"quantitative","scale":{"domain":[-9.2,30.1],"nice":false,"zero":false}},"x2":{"datum":23.2},"y":{"datum":-0.6,"type":"quantitative","scale":{"domain":[-0.9,24.7],"nice":false,"zero":false}},"y2":{"datum":24.3}}},
 {"data":{"name":"frame"},"mark":{"type":"rule","color":"#a8a8a8","strokeWidth":2},"encoding":{"x":{"datum":0,"type":"quantitative"},"y":{"datum":-0.6,"type":"quantitative"},"y2":{"datum":23.2}}},
 {"data":{"name":"frame"},"mark":{"type":"rule","color":"#a8a8a8","strokeWidth":2},"encoding":{"x":{"datum":-2.1,"type":"quantitative"},"x2":{"datum":22.4},"y":{"datum":0,"type":"quantitative"}}},
 {"data":{"name":"ticks"},"transform":[{"filter":"datum.c==='er' && datum.axis==='y'"}],"mark":{"type":"rule","color":"#a0a0a0","strokeWidth":1.5},"encoding":{"y":{"field":"at","type":"quantitative"},"x":{"datum":-0.35,"type":"quantitative"},"x2":{"datum":0.35}}},
 {"data":{"name":"frame"},"mark":{"type":"point","shape":"triangle-up","filled":true,"color":"#7a7a7a","opacity":1,"size":80},"encoding":{"x":{"datum":0,"type":"quantitative"},"y":{"datum":23.2,"type":"quantitative"}}},
 {"data":{"name":"frame"},"mark":{"type":"point","shape":"triangle-right","filled":true,"color":"#7a7a7a","opacity":1,"size":80},"encoding":{"x":{"datum":22.4,"type":"quantitative"},"y":{"datum":0,"type":"quantitative"}}},
 {"data":{"name":"curves"},"transform":[{"filter":"datum.c==='er'"}],"mark":{"type":"line","interpolate":"monotone","strokeWidth":2},"encoding":{"x":{"field":"t","type":"quantitative"},"y":{"field":"v","type":"quantitative"},"color":{"field":"s","type":"nominal","scale":{"domain":["red","black","blue"],"range":["#ff2020","#141414","#22229c"]},"legend":null}}}
]},
{"width":307,"height":256,"layer":[
 {"data":{"name":"frame"},"mark":{"type":"rect","color":"#f2f6f2"},"encoding":{"x":{"datum":-1.6,"type":"quantitative","scale":{"domain":[-5.5,25.2],"nice":false,"zero":false}},"x2":{"datum":21.9},"y":{"datum":-0.8,"type":"quantitative","scale":{"domain":[-1.1,24.5],"nice":false,"zero":false}},"y2":{"datum":24.2}}},
 {"data":{"name":"frame"},"mark":{"type":"rule","color":"#a8a8a8","strokeWidth":2},"encoding":{"x":{"datum":0,"type":"quantitative"},"y":{"datum":-0.8,"type":"quantitative"},"y2":{"datum":22.9}}},
 {"data":{"name":"frame"},"mark":{"type":"rule","color":"#a8a8a8","strokeWidth":2},"encoding":{"x":{"datum":-1.5,"type":"quantitative"},"x2":{"datum":21.1},"y":{"datum":0,"type":"quantitative"}}},
 {"data":{"name":"frame"},"mark":{"type":"point","shape":"triangle-up","filled":true,"color":"#7a7a7a","opacity":1,"size":80},"encoding":{"x":{"datum":0,"type":"quantitative"},"y":{"datum":22.9,"type":"quantitative"}}},
 {"data":{"name":"frame"},"mark":{"type":"point","shape":"triangle-right","filled":true,"color":"#7a7a7a","opacity":1,"size":80},"encoding":{"x":{"datum":21.1,"type":"quantitative"},"y":{"datum":0,"type":"quantitative"}}},
 {"data":{"name":"curves"},"transform":[{"filter":"datum.c==='eh'"}],"mark":{"type":"line","interpolate":"linear","strokeWidth":1.5},"encoding":{"x":{"field":"t","type":"quantitative"},"y":{"field":"v","type":"quantitative"},"color":{"field":"s","type":"nominal","scale":{"domain":["red","black","blue"],"range":["#ff2020","#141414","#22229c"]},"legend":null}}}
]},

{"width":169,"height":267,"data":{"values":[{"label":"Lognormal"}]},"mark":{"type":"text","font":"Liberation Serif","fontSize":26.5,"align":"left","baseline":"alphabetic","color":"#000"},"encoding":{"text":{"field":"label"},"x":{"datum":8.3,"type":"quantitative","scale":{"domain":[0,100],"nice":false}},"y":{"datum":10.5,"type":"quantitative","scale":{"domain":[0,100],"nice":false,"reverse":true}}}},
{"width":378,"height":267,"layer":[
 {"data":{"name":"frame"},"mark":{"type":"rect","color":"#f2f6f2"},"encoding":{"x":{"datum":-2.2,"type":"quantitative","scale":{"domain":[-8.8,29.0],"nice":false,"zero":false}},"x2":{"datum":22.5},"y":{"datum":-1.5,"type":"quantitative","scale":{"domain":[-1.6,25.1],"nice":false,"zero":false}},"y2":{"datum":24.7}}},
 {"data":{"name":"frame"},"mark":{"type":"rule","color":"#a8a8a8","strokeWidth":2},"encoding":{"x":{"datum":0,"type":"quantitative"},"y":{"datum":-1.5,"type":"quantitative"},"y2":{"datum":24.0}}},
 {"data":{"name":"frame"},"mark":{"type":"rule","color":"#a8a8a8","strokeWidth":2},"encoding":{"x":{"datum":-1.9,"type":"quantitative"},"x2":{"datum":21.0},"y":{"datum":0,"type":"quantitative"}}},
 {"data":{"name":"ticks"},"transform":[{"filter":"datum.c==='lp' && datum.axis==='y'"}],"mark":{"type":"rule","color":"#a0a0a0","strokeWidth":1.5},"encoding":{"y":{"field":"at","type":"quantitative"},"x":{"datum":-0.35,"type":"quantitative"},"x2":{"datum":0.35}}},
 {"data":{"name":"frame"},"mark":{"type":"point","shape":"triangle-up","filled":true,"color":"#7a7a7a","opacity":1,"size":80},"encoding":{"x":{"datum":0,"type":"quantitative"},"y":{"datum":24.0,"type":"quantitative"}}},
 {"data":{"name":"frame"},"mark":{"type":"point","shape":"triangle-right","filled":true,"color":"#7a7a7a","opacity":1,"size":80},"encoding":{"x":{"datum":21.0,"type":"quantitative"},"y":{"datum":0,"type":"quantitative"}}},
 {"data":{"name":"curves"},"transform":[{"filter":"datum.c==='lp'"}],"mark":{"type":"line","interpolate":"monotone","strokeWidth":2},"encoding":{"x":{"field":"t","type":"quantitative"},"y":{"field":"v","type":"quantitative"},"color":{"field":"s","type":"nominal","scale":{"domain":["red","black","blue"],"range":["#ff2020","#141414","#22229c"]},"legend":null}}}
]},
{"width":393,"height":267,"layer":[
 {"data":{"name":"frame"},"mark":{"type":"rect","color":"#f2f6f2"},"encoding":{"x":{"datum":-4.0,"type":"quantitative","scale":{"domain":[-11.3,28.0],"nice":false,"zero":false}},"x2":{"datum":20.7},"y":{"datum":-0.9,"type":"quantitative","scale":{"domain":[-1.2,25.5],"nice":false,"zero":false}},"y2":{"datum":25.1}}},
 {"data":{"name":"frame"},"mark":{"type":"rule","color":"#a8a8a8","strokeWidth":2},"encoding":{"x":{"datum":0,"type":"quantitative"},"y":{"datum":-0.8,"type":"quantitative"},"y2":{"datum":23.8}}},
 {"data":{"name":"frame"},"mark":{"type":"rule","color":"#a8a8a8","strokeWidth":2},"encoding":{"x":{"datum":-1.8,"type":"quantitative"},"x2":{"datum":18.8},"y":{"datum":0,"type":"quantitative"}}},
 {"data":{"name":"ticks"},"transform":[{"filter":"datum.c==='lr' && datum.axis==='y'"}],"mark":{"type":"rule","color":"#a0a0a0","strokeWidth":1.5},"encoding":{"y":{"field":"at","type":"quantitative"},"x":{"datum":-0.35,"type":"quantitative"},"x2":{"datum":0.35}}},
 {"data":{"name":"frame"},"mark":{"type":"point","shape":"triangle-up","filled":true,"color":"#7a7a7a","opacity":1,"size":80},"encoding":{"x":{"datum":0,"type":"quantitative"},"y":{"datum":23.8,"type":"quantitative"}}},
 {"data":{"name":"frame"},"mark":{"type":"point","shape":"triangle-right","filled":true,"color":"#7a7a7a","opacity":1,"size":80},"encoding":{"x":{"datum":18.8,"type":"quantitative"},"y":{"datum":0,"type":"quantitative"}}},
 {"data":{"name":"curves"},"transform":[{"filter":"datum.c==='lr'"}],"mark":{"type":"line","interpolate":"monotone","strokeWidth":2},"encoding":{"x":{"field":"t","type":"quantitative"},"y":{"field":"v","type":"quantitative"},"color":{"field":"s","type":"nominal","scale":{"domain":["red","black","blue"],"range":["#ff2020","#141414","#22229c"]},"legend":null}}}
]},
{"width":307,"height":267,"layer":[
 {"data":{"name":"frame"},"mark":{"type":"rect","color":"#f2f6f2"},"encoding":{"x":{"datum":-2.7,"type":"quantitative","scale":{"domain":[-6.5,24.2],"nice":false,"zero":false}},"x2":{"datum":21.2},"y":{"datum":-1.3,"type":"quantitative","scale":{"domain":[-1.6,25.1],"nice":false,"zero":false}},"y2":{"datum":24.7}}},
 {"data":{"name":"frame"},"mark":{"type":"rule","color":"#a8a8a8","strokeWidth":2},"encoding":{"x":{"datum":0,"type":"quantitative"},"y":{"datum":-0.7,"type":"quantitative"},"y2":{"datum":23.2}}},
 {"data":{"name":"frame"},"mark":{"type":"rule","color":"#a8a8a8","strokeWidth":2},"encoding":{"x":{"datum":-1.8,"type":"quantitative"},"x2":{"datum":19.9},"y":{"datum":0,"type":"quantitative"}}},
 {"data":{"name":"ticks"},"transform":[{"filter":"datum.c==='lh' && datum.axis==='y'"}],"mark":{"type":"rule","color":"#a0a0a0","strokeWidth":1.5},"encoding":{"y":{"field":"at","type":"quantitative"},"x":{"datum":-0.35,"type":"quantitative"},"x2":{"datum":0.35}}},
 {"data":{"name":"frame"},"mark":{"type":"point","shape":"triangle-up","filled":true,"color":"#7a7a7a","opacity":1,"size":80},"encoding":{"x":{"datum":0,"type":"quantitative"},"y":{"datum":23.2,"type":"quantitative"}}},
 {"data":{"name":"frame"},"mark":{"type":"point","shape":"triangle-right","filled":true,"color":"#7a7a7a","opacity":1,"size":80},"encoding":{"x":{"datum":19.9,"type":"quantitative"},"y":{"datum":0,"type":"quantitative"}}},
 {"data":{"name":"curves"},"transform":[{"filter":"datum.c==='lh'"}],"mark":{"type":"line","interpolate":"monotone","strokeWidth":2},"encoding":{"x":{"field":"t","type":"quantitative"},"y":{"field":"v","type":"quantitative"},"color":{"field":"s","type":"nominal","scale":{"domain":["red","black","blue"],"range":["#ff2020","#141414","#22229c"]},"legend":null}}}
]},

{"width":169,"height":268,"data":{"values":[{"label":"Weibull"}]},"mark":{"type":"text","font":"Liberation Serif","fontSize":26.5,"align":"left","baseline":"alphabetic","color":"#000"},"encoding":{"text":{"field":"label"},"x":{"datum":8.3,"type":"quantitative","scale":{"domain":[0,100],"nice":false}},"y":{"datum":10.1,"type":"quantitative","scale":{"domain":[0,100],"nice":false,"reverse":true}}}},
{"width":378,"height":268,"layer":[
 {"data":{"name":"frame"},"mark":{"type":"rect","color":"#f2f6f2"},"encoding":{"x":{"datum":-2.6,"type":"quantitative","scale":{"domain":[-9.5,28.3],"nice":false,"zero":false}},"x2":{"datum":21.9},"y":{"datum":-1.6,"type":"quantitative","scale":{"domain":[-1.7,25.1],"nice":false,"zero":false}},"y2":{"datum":24.7}}},
 {"data":{"name":"frame"},"mark":{"type":"rule","color":"#a8a8a8","strokeWidth":2},"encoding":{"x":{"datum":0,"type":"quantitative"},"y":{"datum":-0.9,"type":"quantitative"},"y2":{"datum":23.4}}},
 {"data":{"name":"frame"},"mark":{"type":"rule","color":"#a8a8a8","strokeWidth":2},"encoding":{"x":{"datum":-1.9,"type":"quantitative"},"x2":{"datum":20.5},"y":{"datum":0,"type":"quantitative"}}},
 {"data":{"name":"ticks"},"transform":[{"filter":"datum.c==='wp' && datum.axis==='y'"}],"mark":{"type":"rule","color":"#a0a0a0","strokeWidth":1.5},"encoding":{"y":{"field":"at","type":"quantitative"},"x":{"datum":-0.35,"type":"quantitative"},"x2":{"datum":0.35}}},
 {"data":{"name":"ticks"},"transform":[{"filter":"datum.c==='wp' && datum.axis==='x'"}],"mark":{"type":"rule","color":"#a0a0a0","strokeWidth":1.5},"encoding":{"x":{"field":"at","type":"quantitative"},"y":{"datum":-0.35,"type":"quantitative"},"y2":{"datum":0.35}}},
 {"data":{"name":"frame"},"mark":{"type":"point","shape":"triangle-up","filled":true,"color":"#7a7a7a","opacity":1,"size":80},"encoding":{"x":{"datum":0,"type":"quantitative"},"y":{"datum":23.4,"type":"quantitative"}}},
 {"data":{"name":"frame"},"mark":{"type":"point","shape":"triangle-right","filled":true,"color":"#7a7a7a","opacity":1,"size":80},"encoding":{"x":{"datum":20.5,"type":"quantitative"},"y":{"datum":0,"type":"quantitative"}}},
 {"data":{"name":"curves"},"transform":[{"filter":"datum.c==='wp'"}],"mark":{"type":"line","interpolate":"monotone","strokeWidth":2},"encoding":{"x":{"field":"t","type":"quantitative"},"y":{"field":"v","type":"quantitative"},"color":{"field":"s","type":"nominal","scale":{"domain":["red","black","blue"],"range":["#ff2020","#141414","#22229c"]},"legend":null}}}
]},
{"width":393,"height":268,"layer":[
 {"data":{"name":"frame"},"mark":{"type":"rect","color":"#f2f6f2"},"encoding":{"x":{"datum":-1.7,"type":"quantitative","scale":{"domain":[-9.3,30.0],"nice":false,"zero":false}},"x2":{"datum":22.7},"y":{"datum":-1.7,"type":"quantitative","scale":{"domain":[-2.0,24.8],"nice":false,"zero":false}},"y2":{"datum":24.4}}},
 {"data":{"name":"frame"},"mark":{"type":"rule","color":"#a8a8a8","strokeWidth":2},"encoding":{"x":{"datum":0,"type":"quantitative"},"y":{"datum":-1.5,"type":"quantitative"},"y2":{"datum":23.6}}},
 {"data":{"name":"frame"},"mark":{"type":"rule","color":"#a8a8a8","strokeWidth":2},"encoding":{"x":{"datum":-1.6,"type":"quantitative"},"x2":{"datum":21.7},"y":{"datum":0,"type":"quantitative"}}},
 {"data":{"name":"ticks"},"transform":[{"filter":"datum.c==='wr' && datum.axis==='y'"}],"mark":{"type":"rule","color":"#a0a0a0","strokeWidth":1.5},"encoding":{"y":{"field":"at","type":"quantitative"},"x":{"datum":-0.35,"type":"quantitative"},"x2":{"datum":0.35}}},
 {"data":{"name":"ticks"},"transform":[{"filter":"datum.c==='wr' && datum.axis==='x'"}],"mark":{"type":"rule","color":"#a0a0a0","strokeWidth":1.5},"encoding":{"x":{"field":"at","type":"quantitative"},"y":{"datum":-0.35,"type":"quantitative"},"y2":{"datum":0.35}}},
 {"data":{"name":"frame"},"mark":{"type":"point","shape":"triangle-up","filled":true,"color":"#7a7a7a","opacity":1,"size":80},"encoding":{"x":{"datum":0,"type":"quantitative"},"y":{"datum":23.6,"type":"quantitative"}}},
 {"data":{"name":"frame"},"mark":{"type":"point","shape":"triangle-right","filled":true,"color":"#7a7a7a","opacity":1,"size":80},"encoding":{"x":{"datum":21.7,"type":"quantitative"},"y":{"datum":0,"type":"quantitative"}}},
 {"data":{"name":"curves"},"transform":[{"filter":"datum.c==='wr'"}],"mark":{"type":"line","interpolate":"monotone","strokeWidth":2},"encoding":{"x":{"field":"t","type":"quantitative"},"y":{"field":"v","type":"quantitative"},"color":{"field":"s","type":"nominal","scale":{"domain":["red","black","blue"],"range":["#ff2020","#141414","#22229c"]},"legend":null}}}
]},
{"width":307,"height":268,"layer":[
 {"data":{"name":"frame"},"mark":{"type":"rect","color":"#f2f6f2"},"encoding":{"x":{"datum":-2.0,"type":"quantitative","scale":{"domain":[-6.1,24.6],"nice":false,"zero":false}},"x2":{"datum":21.0},"y":{"datum":-1.4,"type":"quantitative","scale":{"domain":[-2.0,24.8],"nice":false,"zero":false}},"y2":{"datum":24.4}}},
 {"data":{"name":"frame"},"mark":{"type":"rule","color":"#a8a8a8","strokeWidth":2},"encoding":{"x":{"datum":0,"type":"quantitative"},"y":{"datum":-1.3,"type":"quantitative"},"y2":{"datum":23.1}}},
 {"data":{"name":"frame"},"mark":{"type":"rule","color":"#a8a8a8","strokeWidth":2},"encoding":{"x":{"datum":-1.9,"type":"quantitative"},"x2":{"datum":20.0},"y":{"datum":0,"type":"quantitative"}}},
 {"data":{"name":"ticks"},"transform":[{"filter":"datum.c==='wh' && datum.axis==='y'"}],"mark":{"type":"rule","color":"#a0a0a0","strokeWidth":1.5},"encoding":{"y":{"field":"at","type":"quantitative"},"x":{"datum":-0.35,"type":"quantitative"},"x2":{"datum":0.35}}},
 {"data":{"name":"ticks"},"transform":[{"filter":"datum.c==='wh' && datum.axis==='x'"}],"mark":{"type":"rule","color":"#a0a0a0","strokeWidth":1.5},"encoding":{"x":{"field":"at","type":"quantitative"},"y":{"datum":-0.35,"type":"quantitative"},"y2":{"datum":0.35}}},
 {"data":{"name":"frame"},"mark":{"type":"point","shape":"triangle-up","filled":true,"color":"#7a7a7a","opacity":1,"size":80},"encoding":{"x":{"datum":0,"type":"quantitative"},"y":{"datum":23.1,"type":"quantitative"}}},
 {"data":{"name":"frame"},"mark":{"type":"point","shape":"triangle-right","filled":true,"color":"#7a7a7a","opacity":1,"size":80},"encoding":{"x":{"datum":20.0,"type":"quantitative"},"y":{"datum":0,"type":"quantitative"}}},
 {"data":{"name":"curves"},"transform":[{"filter":"datum.c==='wh'"}],"mark":{"type":"line","interpolate":"monotone","strokeWidth":2},"encoding":{"x":{"field":"t","type":"quantitative"},"y":{"field":"v","type":"quantitative"},"color":{"field":"s","type":"nominal","scale":{"domain":["red","black","blue"],"range":["#ff2020","#141414","#22229c"]},"legend":null}}}
]}
]
}
